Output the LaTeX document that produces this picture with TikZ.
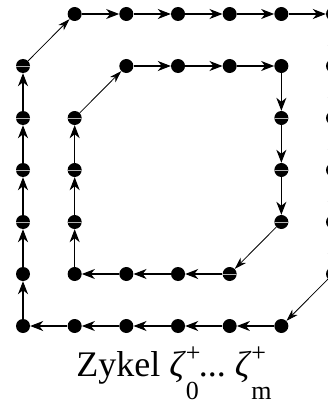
\documentclass[tikz,border=0pt]{standalone}
\usepackage{fontspec}
\setmainfont{Liberation Serif}
\usetikzlibrary{arrows.meta}
\tikzset{
  dot/.style={circle, fill=black, inner sep=0pt, minimum size=14pt},
  striped/.style={path picture={\draw[white!70!black,line width=0.45pt] ([xshift=-1pt]path picture bounding box.west) -- ([xshift=1pt]path picture bounding box.east);}},
  edge/.style={line width=1.1pt, -{Stealth[length=13pt,width=10pt,inset=4pt]}},
  diag/.style={line width=0.8pt, -{Stealth[length=12pt,width=7.5pt,inset=3.5pt]}},
}
\newcommand\zet[1]{\textit{ζ}\rlap{\raisebox{15pt}{\fontsize{26}{26}\selectfont +}}\raisebox{-23pt}{\fontsize{26}{26}\selectfont #1}}
\newcommand\gdot[3][]{\node[dot,#1] (g-#2-#3) at ({23+51.67*#2},{14+52*#3}) {};}
\begin{document}
\begin{tikzpicture}[x=1pt,y=-1pt]
\useasboundingbox (0,0) rectangle (328,404);
% outer loop dots
\foreach \r in {1,...,4} {\gdot[striped]{0}{\r}}
\foreach \r in {5,6} {\gdot{0}{\r}}
\foreach \c in {1,...,6} {\gdot{\c}{0}}
\foreach \r in {1,...,5} {\gdot{6}{\r}}
\foreach \c in {1,...,5} {\gdot{\c}{6}}
% inner loop dots
\foreach \r in {2,3,4} {\gdot[striped]{1}{\r}}
\gdot{1}{5}
\foreach \c in {2,...,5} {\gdot{\c}{1}}
\foreach \r in {2,3,4} {\gdot[striped]{5}{\r}}
\gdot[striped]{4}{5}
\foreach \c in {2,3} {\gdot{\c}{5}}
% outer loop edges
\foreach \a/\b in {6/5,5/4,4/3,3/2,2/1} {\draw[edge] (g-0-\a) -- (g-0-\b);}
\draw[diag] (g-0-1) -- (g-1-0);
\foreach \a/\b in {1/2,2/3,3/4,4/5,5/6} {\draw[edge] (g-\a-0) -- (g-\b-0);}
\foreach \a/\b in {0/1,1/2,2/3,3/4,4/5} {\draw[edge] (g-6-\a) -- (g-6-\b);}
\draw[diag] (g-6-5) -- (g-5-6);
\foreach \a/\b in {5/4,4/3,3/2,2/1,1/0} {\draw[edge] (g-\a-6) -- (g-\b-6);}
% inner loop edges
\foreach \a/\b in {5/4,4/3,3/2} {\draw[edge] (g-1-\a) -- (g-1-\b);}
\draw[diag] (g-1-2) -- (g-2-1);
\foreach \a/\b in {2/3,3/4,4/5} {\draw[edge] (g-\a-1) -- (g-\b-1);}
\foreach \a/\b in {1/2,2/3,3/4} {\draw[edge] (g-5-\a) -- (g-5-\b);}
\draw[diag] (g-5-4) -- (g-4-5);
\foreach \a/\b in {4/3,3/2,2/1} {\draw[edge] (g-\a-5) -- (g-\b-5);}
% caption
\node[anchor=base, inner sep=0pt, font=\fontsize{36}{40}\selectfont] (cap) at (174,376) {Zykel \zet{0}...\ \zet{m}};
\end{tikzpicture}
\end{document}
